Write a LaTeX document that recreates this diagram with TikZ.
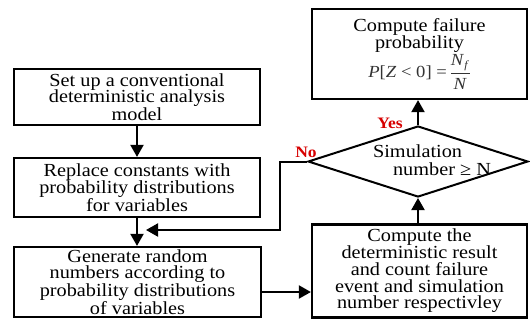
\documentclass[tikz,border=0pt]{standalone}
\usepackage{fontspec}
\setmainfont[FakeStretch=1.1]{Liberation Serif}
\usetikzlibrary{arrows.meta,shapes.geometric}
\definecolor{lblred}{RGB}{215,0,0}
\begin{document}
\begin{tikzpicture}[x=1bp,y=-1bp,
  box/.style={draw,line width=2.2bp,align=center,inner sep=0pt,
    font=\fontsize{18.5}{16.8}\selectfont},
  arr/.style={line width=2bp,-{Triangle[length=12bp,width=13bp]}},
  lbl/.style={text=lblred,font=\fontsize{16}{16}\selectfont\bfseries,inner sep=0pt}]
\useasboundingbox (0,0) rectangle (530,320);
\node[box,minimum width=246bp,minimum height=56bp] (b1) at (137,97)
  {Set up a conventional\\deterministic analysis\\model};
\node[box,minimum width=246bp,minimum height=59bp] (b2) at (137,187.5)
  {Replace constants with\\probability distributions\\for variables};
\node[box,minimum width=247bp,minimum height=70bp] (b3) at (137.5,282)
  {Generate random\\numbers according to\\probability distributions\\of variables};
\node[box,minimum width=215bp,minimum height=90bp] (top) at (419.5,54)
  {Compute failure\\probability\\[1bp]{\color{black!80}\fontsize{17}{17}\selectfont$\displaystyle
   \mbox{\textit{P}[\textit{Z} < 0] =}\,\frac{\mbox{\textit{N}}_{\mbox{\fontsize{11}{11}\selectfont\textit{f}}}}{\mbox{\textit{N}}}$}};
\node[box,minimum width=215bp,minimum height=93bp] (b4) at (419.5,271)
  {Compute the\\deterministic result\\and count failure\\event and simulation\\number respectivley};
\node[draw,diamond,line width=2bp,inner sep=0pt,minimum width=220bp,minimum height=71bp] (d) at (418,161.5) {};
\node[align=left,inner sep=0pt,font=\fontsize{18.5}{18}\selectfont] (dt) at (432,160)
  {Simulation\\\hspace*{20bp}number ≥ N};
\node[lbl] (yes) at (390,123) {Yes};
\node[lbl] (no) at (306,152) {No};
\coordinate (k1) at (280,230);
\coordinate (fb) at (146,230);
\draw[arr] (b1) -- (b2);
\draw[arr] (b2.south) -- (b2.south |- b3.north);
\draw[arr] (d.west) -| (k1) -- (fb);
\draw[arr] ([yshift=-10bp]b3.east) -- ([yshift=-10bp]b3.east -| b4.west);
\draw[arr] (d.south |- b4.north) -- (d.south);
\draw[arr] (d.north) -- (d.north |- top.south);
\end{tikzpicture}
\end{document}
